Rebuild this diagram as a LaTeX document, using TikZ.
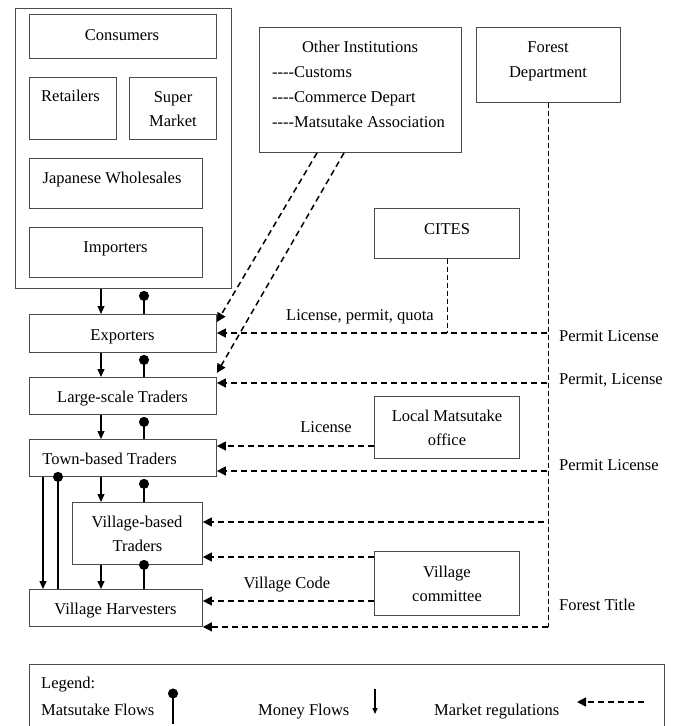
\documentclass[tikz,border=0pt]{standalone}
\usepackage{fontspec}
\setmainfont{Liberation Serif}
\usetikzlibrary{arrows.meta}
\newcommand\myhy{\mbox{-}}
\begin{document}
\begin{tikzpicture}[x=1pt,y=-1pt,
  font=\fontsize{16.5}{24.5}\selectfont,
  box/.style={draw=black!70, line width=0.9pt, anchor=north west, inner sep=0pt},
  lbl/.style={anchor=base, inner sep=0pt},
  lblw/.style={anchor=base west, inner sep=0pt},
  money/.style={line width=1.2pt, -{Triangle[length=8pt,width=7pt]}},
  mats/.style={line width=1.6pt, -{Circle[length=10pt]}},
  reg/.style={line width=1.5pt, dash pattern=on 6pt off 4pt, -{Triangle[length=9pt,width=9pt]}},
  thindash/.style={line width=0.9pt, dash pattern=on 5pt off 3pt}]
\useasboundingbox (0,0) rectangle (676,726);
\fill[white] (0,0) rectangle (676,726);

% boxes
\node[box, minimum width=216, minimum height=280] (outer) at (15,8) {};
\node[box, minimum width=187, minimum height=44] (cons) at (29,14) {};
\node[box, minimum width=87, minimum height=62] (ret) at (29,77) {};
\node[box, minimum width=87, minimum height=62] (sup) at (129,77) {};
\node[box, minimum width=173, minimum height=50] (jw) at (29,158) {};
\node[box, minimum width=173, minimum height=50] (imp) at (29,227) {};
\node[box, minimum width=202, minimum height=125] (oi) at (259,27) {};
\node[box, minimum width=144, minimum height=75] (fd) at (476,27) {};
\node[box, minimum width=145, minimum height=50] (cites) at (374,208) {};
\node[box, minimum width=187, minimum height=38] (exp) at (29,314) {};
\node[box, minimum width=187, minimum height=37] (lt) at (29,377) {};
\node[box, minimum width=145, minimum height=62] (lmo) at (374,396) {};
\node[box, minimum width=187, minimum height=37] (tt) at (29,439) {};
\node[box, minimum width=130, minimum height=62] (vb) at (72,502) {};
\node[box, minimum width=145, minimum height=64] (vc) at (374,551) {};
\node[box, minimum width=173, minimum height=37] (vh) at (29,589) {};

% box texts
\node[lbl] (consT) at (122,40) {Consumers};
\node[lbl] (retT) at (70.5,101.7) {Retailers};
\node[lbl] (supT1) at (173,102) {Super};
\node[lbl] (supT2) at (173,126.5) {Market};
\node[lbl] (jwT) at (112,183) {Japanese Wholesales};
\node[lbl] (impT) at (115.5,252) {Importers};
\node[lbl] (oiT) at (360,52.7) {Other Institutions};
\node[lblw] (oiT1) at (272,77.3) {\myhy\myhy\myhy\myhy Customs};
\node[lblw] (oiT2) at (272,102) {\myhy\myhy\myhy\myhy Commerce Depart};
\node[lblw] (oiT3) at (272,127) {\myhy\myhy\myhy\myhy Matsutake Association};
\node[lbl] (fdT1) at (548,52.7) {Forest};
\node[lbl] (fdT2) at (548,77.3) {Department};
\node[lbl] (citesT) at (447,234) {CITES};
\node[lbl] (lmoT1) at (447,421) {Local Matsutake};
\node[lbl] (lmoT2) at (447,445.5) {office};
\node[lbl] (vcT1) at (447,577) {Village};
\node[lbl] (vcT2) at (447,601.5) {committee};
\node[lbl] (expT) at (122.5,340) {Exporters};
\node[lbl] (ltT) at (122.5,402) {Large-scale Traders};
\node[lbl] (ttT) at (109.5,464.3) {Town-based Traders};
\node[lbl] (vbT1) at (137,527) {Village-based};
\node[lbl] (vbT2) at (137.5,551.5) {Traders};
\node[lbl] (vhT) at (115.5,614.3) {Village Harvesters};

% columns
\coordinate (cM) at (101,0);
\coordinate (cT) at (144,0);
\coordinate (cMl) at (43,0);
\coordinate (cTl) at (58,0);

% money flows
\draw[money] (outer.south -| cM) -- (exp.north -| cM);
\draw[money] (exp.south -| cM) -- (lt.north -| cM);
\draw[money] (lt.south -| cM) -- (tt.north -| cM);
\draw[money] (tt.south -| cM) -- (vb.north -| cM);
\draw[money] (vb.south -| cM) -- (vh.north -| cM);
\draw[money] (tt.south -| cMl) -- (vh.north -| cMl);

% matsutake flows
\draw[mats, shorten >=2pt] (exp.north -| cT) -- (outer.south -| cT);
\draw[mats, shorten >=2pt] (lt.north -| cT) -- (exp.south -| cT);
\draw[mats, shorten >=2pt] (tt.north -| cT) -- (lt.south -| cT);
\draw[mats, shorten >=2pt] (vb.north -| cT) -- (tt.south -| cT);
\draw[mats, shorten >=-5pt] (vh.north -| cT) -- (vb.south -| cT);
\draw[mats, shorten >=-5pt] (vh.north -| cTl) -- (tt.south -| cTl);

% regulations
\draw[reg] ([xshift=58pt]oi.south west) -- ([yshift=-8pt]exp.north east);
\draw[reg] ([xshift=85pt]oi.south west) -- ([yshift=4pt]lt.north east);

\coordinate (fcorner) at (fd.south |- vh.south);
\draw[thindash] (fd.south) -- (fcorner);
\coordinate (fE) at (547,333);
\coordinate (fL) at (547,383);
\coordinate (fT) at (547,471);
\coordinate (fV) at (544,522);
\draw[thindash] (cites.south) -- (cites.south |- fE);
\draw[reg] (fE) -- (fE -| exp.east);
\draw[reg] (fL) -- (fL -| lt.east);
\coordinate (oT) at (374,446);
\draw[reg] (oT) -- (oT -| tt.east);
\draw[reg] (fT) -- (fT -| tt.east);
\draw[reg] (fV) -- (fV -| vb.east);
\coordinate (vcA) at (374,557);
\coordinate (vcB) at (374,601);
\draw[reg] (vcA) -- (vcA -| vb.east);
\draw[reg] (vcB) -- (vcB -| vh.east);
\draw[reg] (fcorner) -- (vh.south east);

% connector labels
\node[lbl] (l1) at (360,320.5) {License, permit, quota};
\node[lblw] (l2) at (559,341.5) {Permit License};
\node[lblw] (l3) at (559,384) {Permit, License};
\node[lbl] (l4) at (326,432.5) {License};
\node[lblw] (l5) at (559,470.5) {Permit License};
\node[lbl] (l6) at (287,588) {Village Code};
\node[lblw] (l7) at (559,610) {Forest Title};

% legend
\draw[draw=black!70, line width=0.9pt] (29,730) -- (29,664) -- (664,664) -- (664,730);
\node[lblw] (lgT) at (41,688) {Legend:};
\node[lblw] (lgM) at (41,715) {Matsutake Flows};
\node[lblw] (lgN) at (258,715) {Money Flows};
\node[lblw] (lgR) at (434,715) {Market regulations};
\coordinate (lgA1) at (173,724);
\coordinate (lgA2) at (173,688.5);
\draw[mats] (lgA1) -- (lgA2);
\coordinate (lgB1) at (375,689);
\coordinate (lgB2) at (375,714);
\draw[money, -{Triangle[length=6pt,width=5pt]}] (lgB1) -- (lgB2);
\coordinate (lgC1) at (644,702);
\coordinate (lgC2) at (577,702);
\draw[reg] (lgC1) -- (lgC2);
\end{tikzpicture}
\end{document}
